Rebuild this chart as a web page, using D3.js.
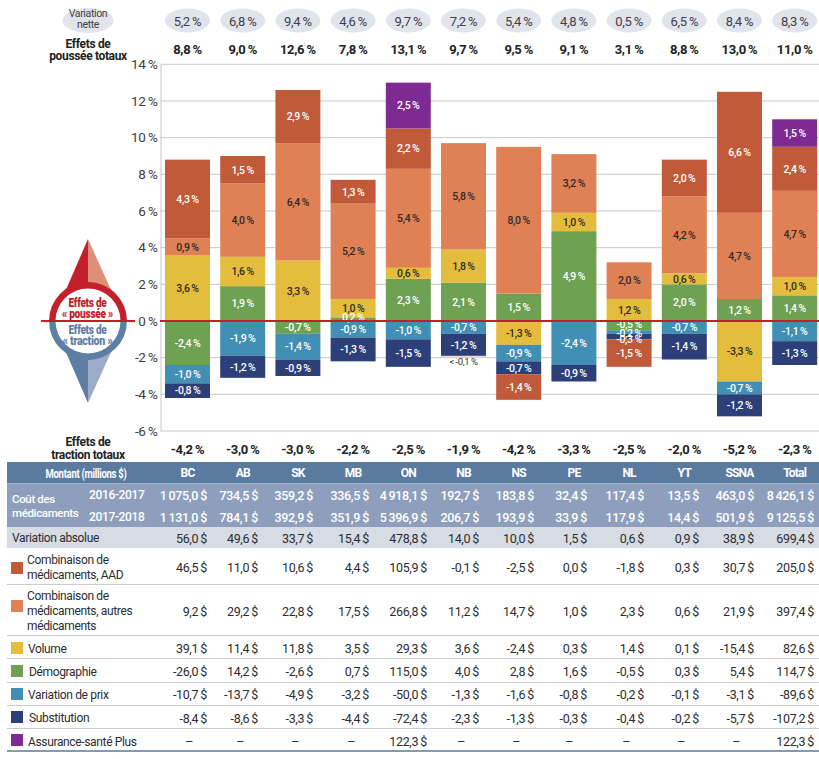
<!DOCTYPE html>
<html><head><meta charset="utf-8">
<script src="https://cdn.jsdelivr.net/npm/d3@7"></script>
<style>
html,body{margin:0;padding:0;background:#fff}
svg{display:block}
text{font-family:Roboto,"Noto Sans",sans-serif;letter-spacing:-.35px}
</style></head><body><div id="c"></div>
<script>
// ---- data ----
const regions=["BC","AB","SK","MB","ON","NB","NS","PE","NL","YT","SSNA","Total"];
const netVariation=[5.2,6.8,9.4,4.6,9.7,7.2,5.4,4.8,0.5,6.5,8.4,8.3];
const pushTotals=[8.8,9.0,12.6,7.8,13.1,9.7,9.5,9.1,3.1,8.8,13.0,11.0];
const pullTotals=[-4.2,-3.0,-3.0,-2.2,-2.5,-1.9,-4.2,-3.3,-2.5,-2.0,-5.2,-2.3];
const yTicks=[14,12,10,8,6,4,2,0,-2,-4,-6];
const demographie=[-2.4,1.9,-0.7,0.2,2.3,2.1,1.5,4.9,-0.5,2.0,1.2,1.4];
const volume=[3.6,1.6,3.3,1.0,0.6,1.8,-1.3,1.0,1.2,0.6,-3.3,1.0];
const autres=[0.9,4.0,6.4,5.2,5.4,5.8,8.0,3.2,2.0,4.2,4.7,4.7];
const aad=[4.3,1.5,2.9,1.3,2.2,-0.02,-1.4,0,-1.5,2.0,6.6,2.4];
const plus=[0,0,0,0,2.5,0,0,0,0,0,0,1.5];
const prix=[-1.0,-1.9,-1.4,-0.9,-1.0,-0.7,-0.9,-2.4,-0.2,-0.7,-0.7,-1.1];
const substitution=[-0.8,-1.2,-0.9,-1.3,-1.5,-1.2,-0.7,-0.9,-0.3,-1.4,-1.2,-1.3];
const cout2016=["1 075,0 $","734,5 $","359,2 $","336,5 $","4 918,1 $","192,7 $","183,8 $","32,4 $","117,4 $","13,5 $","463,0 $","8 426,1 $"];
const cout2017=["1 131,0 $","784,1 $","392,9 $","351,9 $","5 396,9 $","206,7 $","193,9 $","33,9 $","117,9 $","14,4 $","501,9 $","9 125,5 $"];
const varAbsolue=["56,0 $","49,6 $","33,7 $","15,4 $","478,8 $","14,0 $","10,0 $","1,5 $","0,6 $","0,9 $","38,9 $","699,4 $"];
const rowAad=["46,5 $","11,0 $","10,6 $","4,4 $","105,9 $","-0,1 $","-2,5 $","0,0 $","-1,8 $","0,3 $","30,7 $","205,0 $"];
const rowAutres=["9,2 $","29,2 $","22,8 $","17,5 $","266,8 $","11,2 $","14,7 $","1,0 $","2,3 $","0,6 $","21,9 $","397,4 $"];
const rowVolume=["39,1 $","11,4 $","11,8 $","3,5 $","29,3 $","3,6 $","-2,4 $","0,3 $","1,4 $","0,1 $","-15,4 $","82,6 $"];
const rowDemo=["-26,0 $","14,2 $","-2,6 $","0,7 $","115,0 $","4,0 $","2,8 $","1,6 $","-0,5 $","0,3 $","5,4 $","114,7 $"];
const rowPrix=["-10,7 $","-13,7 $","-4,9 $","-3,2 $","-50,0 $","-1,3 $","-1,6 $","-0,8 $","-0,2 $","-0,1 $","-3,1 $","-89,6 $"];
const rowSubst=["-8,4 $","-8,6 $","-3,3 $","-4,4 $","-72,4 $","-2,3 $","-1,3 $","-0,3 $","-0,4 $","-0,2 $","-5,7 $","-107,2 $"];
const rowPlus=["–","–","–","–","122,3 $","–","–","–","–","–","–","122,3 $"];

// ---- layout ----
const W=819,H=759;
const svg=d3.select("#c").append("svg").attr("width",W).attr("height",H);
const x=d3.scaleBand().domain(regions).range([154.8,827.4]).padding(.185);
const y=d3.scaleLinear().domain([-6,14]).range([431,64.3]);
const cx=r=>x(r)+x.bandwidth()/2;
const pct=v=>v.toFixed(1).replace(".",",")+"\u2009%";
const thin=s=>s.replace(/ /g,"\u2009");
const colRight=[207,258,313,369,427,479,534,587,644,699,754,814];
const DARK="#2f2a28";

// grid + axis
const gAxis=svg.append("g").attr("transform","translate(160.5,0)");
gAxis.call(d3.axisLeft(y).tickValues(yTicks).tickSize(0).tickPadding(3).tickFormat(d=>d+"\u2009%"));
gAxis.select(".domain").attr("stroke","#c6c8cc").attr("stroke-width",1);
gAxis.selectAll("text").attr("font-size",13.5).attr("fill","#3d3d40").style("font-family","Roboto");
svg.append("g").selectAll("line").data(yTicks.filter(t=>t!==0)).join("line")
  .attr("x1",160.5).attr("x2",W).attr("y1",d=>y(d)).attr("y2",d=>y(d))
  .attr("stroke","#c6c8cc").attr("stroke-width",1);

// stacks — stacking order away from zero
const series=[
 {vals:demographie,color:"#6fa153",txt:"#fff"},
 {vals:volume,color:"#e4bd3c",txt:DARK},
 {vals:autres,color:"#e08055",txt:DARK},
 {vals:aad,color:"#c05a38",txt:"#fff"},
 {vals:plus,color:"#7e2a92",txt:"#fff"},
 {vals:prix,color:"#418fb5",txt:"#fff"},
 {vals:substitution,color:"#2d3f78",txt:"#fff"}
];
const negOrder=[0,1,5,6,3];
const segs=[];
regions.forEach((r,i)=>{
  let up=0,dn=0;
  [0,1,2,3,4].forEach(k=>{const s=series[k],v=s.vals[i];
    if(v>0){segs.push({r,y0:up,y1:up+v,v,s});up+=v;}});
  negOrder.forEach(k=>{const s=series[k],v=s.vals[i];
    if(v<0){segs.push({r,y0:dn,y1:dn+v,v,s});dn+=v;}});
});
const gBars=svg.append("g");
gBars.selectAll("rect").data(segs).join("rect")
  .attr("x",d=>x(d.r)).attr("width",x.bandwidth())
  .attr("y",d=>Math.min(y(d.y0),y(d.y1))).attr("height",d=>Math.abs(y(d.y0)-y(d.y1)))
  .attr("fill",d=>d.s.color);
// thin segments carry labels that would collide: small nudges away from each other
const nudge=d=>(d.r==="NL"&&d.v===-0.5)?-1:(d.r==="NL"&&d.v===-0.2)?1:(d.r==="NL"&&d.v===-0.3)?3:(d.r==="MB"&&d.v===0.2)?-1.5:0;
gBars.selectAll("text").data(segs.filter(d=>Math.abs(d.v)>=.1)).join("text")
  .attr("x",d=>cx(d.r)).attr("y",d=>y((d.y0+d.y1)/2)+nudge(d)).attr("dy",".36em")
  .attr("text-anchor","middle").attr("font-size",10.5).attr("font-weight",500)
  .attr("fill",d=>d.s.txt).text(d=>pct(d.v));
svg.append("text").attr("x",cx("NB")).attr("y",y(-2.2)).attr("dy",".36em").attr("text-anchor","middle")
  .attr("font-size",9.5).attr("fill","#333").text("<\u2009-0,1\u2009%");

// zero line
svg.append("line").attr("x1",160).attr("x2",W).attr("y1",y(0)).attr("y2",y(0)).attr("stroke","#c31f2b").attr("stroke-width",2.2);

// ovals, totals
svg.append("g").selectAll("ellipse").data(regions).join("ellipse")
  .attr("cx",cx).attr("cy",20.5).attr("rx",22.5).attr("ry",12).attr("fill","#e1e4ea");
svg.append("ellipse").attr("cx",88).attr("cy",20.5).attr("rx",25.5).attr("ry",12.5).attr("fill","#e1e4ea");
svg.append("g").selectAll("text").data(regions).join("text")
  .attr("x",cx).attr("y",21).attr("dy",".36em").attr("text-anchor","middle").attr("font-size",13).attr("fill","#3d4048")
  .text((d,i)=>pct(netVariation[i]));
svg.append("g").selectAll("text").data(regions).join("text")
  .attr("x",cx).attr("y",49).attr("dy",".36em").attr("text-anchor","middle").attr("font-size",13).attr("font-weight",700).attr("fill","#222")
  .text((d,i)=>pct(pushTotals[i]));
svg.append("g").selectAll("text").data(regions).join("text")
  .attr("x",cx).attr("y",449).attr("dy",".36em").attr("text-anchor","middle").attr("font-size",13).attr("font-weight",700).attr("fill","#222")
  .text((d,i)=>pct(pullTotals[i]));
function lines(xp,ys,arr,attrs){arr.forEach((t,i)=>{const e=svg.append("text").attr("x",xp).attr("y",ys[i]).attr("dy",".36em").text(t);
  Object.entries(attrs).forEach(([k,v])=>e.attr(k,v));});}
lines(88,[13.5,24],["Variation","nette"],{"text-anchor":"middle","font-size":10.5,"fill":"#3d4048"});
lines(88,[44,56],["Effets de","poussée totaux"],{"text-anchor":"middle","font-size":12,"font-weight":700,"fill":"#222"});
lines(88,[442,455],["Effets de","traction totaux"],{"text-anchor":"middle","font-size":12,"font-weight":700,"fill":"#222"});

// badge
const g=svg.append("g");
g.append("path").attr("d",d3.line()([[88,239],[65,292],[88,292]])).attr("fill","#c4202b");
g.append("path").attr("d",d3.line()([[88,239],[112,292],[88,292]])).attr("fill","#dd8f7a");
g.append("path").attr("d",d3.line()([[88,403],[65,350],[88,350]])).attr("fill","#5f7ea6");
g.append("path").attr("d",d3.line()([[88,403],[112,350],[88,350]])).attr("fill","#9cacc6");
g.append("circle").attr("cx",88).attr("cy",321).attr("r",35.5).attr("fill","#fff");
const arc=d3.arc().innerRadius(32.5).outerRadius(39);
g.append("path").attr("transform","translate(88,321)").attr("d",arc({startAngle:-Math.PI/2,endAngle:Math.PI/2})).attr("fill","#c4202b");
g.append("path").attr("transform","translate(88,321)").attr("d",arc({startAngle:Math.PI/2,endAngle:3*Math.PI/2})).attr("fill","#5f7ea6");
g.append("line").attr("x1",41).attr("x2",135).attr("y1",321).attr("y2",321).attr("stroke","#c31f2b").attr("stroke-width",2.2);
const badge=(t,yc,len,col)=>svg.append("text").attr("x",87.5).attr("y",yc).attr("dy",".36em").attr("text-anchor","middle")
  .attr("font-size",12.5).attr("font-weight",900).attr("fill",col).attr("textLength",len).attr("lengthAdjust","spacingAndGlyphs").text(t);
badge("Effets de",302,38,"#c4202b");
badge("« poussée »",313.5,51,"#c4202b");
badge("Effets de",329,38,"#5f7ea6");
badge("« traction »",340,50,"#5f7ea6");

// table backgrounds
const TL=7;
const band=(y0,y1,c)=>svg.append("rect").attr("x",TL).attr("y",y0).attr("width",W-TL).attr("height",y1-y0).attr("fill",c);
band(462,483.5,"#5b7a9f");
band(483.5,527,"#8d9fbd");
band(527,548,"#d7dbe3");
[584,635,658,682,705,728].forEach(v=>svg.append("line").attr("x1",TL).attr("x2",W).attr("y1",v+.5).attr("y2",v+.5).attr("stroke","#c9ccd2"));
svg.append("line").attr("x1",TL).attr("x2",W).attr("y1",751).attr("y2",751).attr("stroke","#5b7a9f").attr("stroke-width",1.5);

// table header
svg.append("text").attr("x",86).attr("y",473).attr("dy",".36em").attr("text-anchor","middle").attr("font-size",12.5).attr("font-weight",700).attr("fill","#fff")
  .attr("textLength",81).attr("lengthAdjust","spacingAndGlyphs").text("Montant (millions $)");
svg.append("g").selectAll("text").data(regions).join("text").attr("x",cx).attr("y",473).attr("dy",".36em")
  .attr("text-anchor","middle").attr("font-size",12).attr("font-weight",700).attr("fill","#fff").style("letter-spacing","-.8px").text(d=>d);
lines(12,[499,513],["Coût des","médicaments"],{"font-size":11.5,"font-weight":500,"fill":"#fff"});
lines(89,[495,517],["2016-2017","2017-2018"],{"font-size":12,"font-weight":500,"fill":"#fff"});
lines(12,[538],["Variation absolue"],{"font-size":12,"fill":"#2c2c30"});

// table values
const rows=[
 {vals:cout2016,yc:495,fill:"#fff",w:500},
 {vals:cout2017,yc:517,fill:"#fff",w:500},
 {vals:varAbsolue,yc:538},
 {vals:rowAad,yc:567},
 {vals:rowAutres,yc:611},
 {vals:rowVolume,yc:648},
 {vals:rowDemo,yc:671},
 {vals:rowPrix,yc:694},
 {vals:rowSubst,yc:718},
 {vals:rowPlus,yc:741}
];
rows.forEach(r=>{
 svg.append("g").selectAll("text").data(r.vals).join("text")
  .attr("x",(d,i)=>d==="–"?colRight[i]-14:colRight[i]).attr("y",r.yc).attr("dy",".36em")
  .attr("text-anchor","end").attr("font-size",12.5).attr("font-weight",r.w||400).attr("fill",r.fill||"#2c2c30").text(d=>thin(d));
});

// legend in table
const legend=[
 {c:"#c05a38",sy:562,tx:27,ys:[560,575],t:["Combinaison de","médicaments, AAD"]},
 {c:"#e08055",sy:600,tx:27,ys:[596,611,626],t:["Combinaison de","médicaments, autres","médicaments"]},
 {c:"#e4bd3c",sy:642,tx:28,ys:[649],t:["Volume"]},
 {c:"#6fa153",sy:665,tx:29,ys:[672],t:["Démographie"]},
 {c:"#418fb5",sy:688,tx:28,ys:[695],t:["Variation de prix"]},
 {c:"#2d3f78",sy:711,tx:29,ys:[718],t:["Substitution"]},
 {c:"#7e2a92",sy:734,tx:28,ys:[742],t:["Assurance-santé Plus"]}
];
legend.forEach(l=>{
 svg.append("rect").attr("x",11).attr("y",l.sy).attr("width",12).attr("height",12).attr("fill",l.c);
 lines(l.tx,l.ys,l.t,{"font-size":12,"fill":"#2c2c30"});
});
</script></body></html>
